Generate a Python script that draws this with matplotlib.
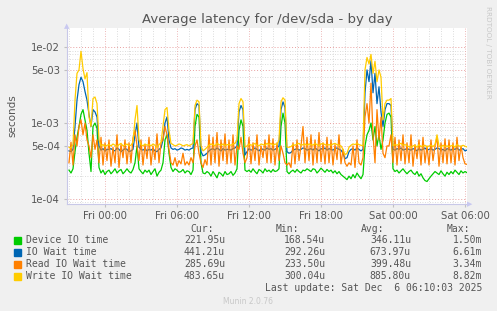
import numpy as np
import pandas as pd
import matplotlib
matplotlib.use('Agg')
import matplotlib.pyplot as plt
import matplotlib.dates as mdates
from matplotlib.ticker import FixedLocator, NullFormatter

# latency samples in microseconds, one every 10 minutes
device_io = [240, 220, 250, 420, 650, 900, 1300, 1500, 1100, 800,
             400, 230, 900, 1000, 850, 260, 220, 240, 210, 230,
             240, 215, 230, 250, 220, 235, 245, 215, 230, 250,
             230, 220, 245, 300, 500, 250, 230, 215, 240, 225,
             240, 210, 230, 250, 200, 225, 240, 300, 600, 700,
             400, 260, 230, 250, 240, 225, 230, 245, 220, 235,
             230, 210, 240, 900, 1300, 1200, 300, 220, 215, 230,
             220, 200, 230, 210, 190, 225, 215, 200, 230, 210,
             215, 230, 205, 220, 250, 800, 1100, 900, 240, 230,
             240, 225, 250, 230, 215, 245, 235, 220, 250, 230,
             240, 225, 245, 230, 235, 250, 900, 1350, 1000, 230,
             215, 230, 240, 225, 245, 230, 220, 240, 235, 250,
             240, 230, 250, 245, 220, 235, 255, 240, 225, 245,
             230, 240, 220, 235, 215, 230, 210, 200, 190, 180,
             200, 185, 210, 190, 220, 200, 185, 210, 500, 700,
             800, 1000, 600, 900, 500, 700, 450, 600, 1000, 1300,
             1350, 1200, 250, 230, 240, 220, 235, 250, 230, 215,
             230, 240, 220, 210, 230, 200, 215, 190, 175, 170,
             185, 200, 215, 230, 220, 210, 235, 215, 200, 225,
             210, 230, 215, 240, 225, 210, 235, 220, 230, 222]

io_wait = [430, 420, 450, 900, 2000, 3200, 4000, 3500, 2600, 2000,
           1300, 900, 1500, 1400, 1200, 500, 440, 460, 430, 450,
           450, 460, 440, 430, 470, 450, 420, 440, 460, 450,
           420, 430, 450, 700, 1000, 480, 450, 440, 460, 430,
           450, 440, 460, 430, 420, 450, 470, 600, 1000, 1200,
           600, 470, 450, 460, 440, 450, 470, 460, 440, 450,
           440, 460, 470, 1500, 1800, 1700, 420, 370, 380, 400,
           430, 450, 460, 440, 470, 450, 430, 460, 440, 450,
           450, 440, 460, 470, 500, 1400, 1700, 1500, 380, 420,
           460, 440, 450, 470, 450, 430, 460, 450, 440, 470,
           450, 460, 440, 450, 470, 500, 1500, 1900, 1600, 420,
           400, 410, 440, 450, 460, 440, 450, 470, 460, 440,
           450, 460, 440, 470, 450, 430, 460, 450, 470, 440,
           460, 450, 440, 460, 470, 450, 440, 400, 340, 350,
           420, 450, 460, 440, 470, 450, 430, 450, 2500, 5000,
           3500, 6600, 2500, 4500, 1800, 3000, 1400, 900, 1500, 1800,
           1800, 1700, 450, 440, 460, 450, 470, 440, 450, 460,
           450, 440, 460, 450, 430, 460, 440, 450, 470, 440,
           450, 460, 440, 450, 470, 460, 440, 450, 430, 460,
           450, 440, 460, 450, 470, 440, 450, 460, 430, 441]

read_io = [300, 560, 280, 700, 500, 900, 1100, 700, 1000, 600,
           500, 350, 700, 450, 600, 300, 650, 280, 550, 320,
           600, 270, 480, 300, 700, 260, 520, 350, 600, 290,
           550, 300, 640, 800, 500, 320, 600, 280, 520, 340,
           650, 280, 500, 330, 720, 300, 550, 600, 900, 700,
           450, 300, 280, 350, 270, 320, 290, 400, 280, 310,
           280, 350, 300, 500, 600, 400, 300, 260, 330, 280,
           700, 280, 650, 300, 750, 270, 600, 320, 720, 290,
           600, 300, 700, 280, 500, 450, 650, 400, 300, 350,
           650, 290, 550, 320, 700, 280, 500, 350, 600, 300,
           700, 300, 620, 280, 550, 320, 500, 400, 300, 280,
           300, 260, 550, 290, 600, 320, 500, 900, 300, 650,
           320, 700, 280, 600, 300, 750, 310, 550, 290, 650,
           300, 600, 280, 520, 330, 700, 290, 450, 300, 270,
           300, 280, 500, 260, 600, 300, 280, 350, 1200, 1800,
           1000, 3340, 700, 300, 1500, 600, 1200, 400, 350, 500,
           500, 700, 300, 650, 280, 600, 320, 700, 290, 550,
           300, 700, 270, 520, 340, 600, 280, 650, 300, 500,
           280, 600, 320, 500, 650, 270, 550, 300, 620, 290,
           600, 300, 550, 280, 650, 320, 500, 350, 290, 286]

write_io = [480, 470, 520, 2000, 4500, 5000, 8800, 5200, 3800, 4600,
            1200, 900, 2100, 2200, 1800, 600, 500, 520, 490, 510,
            520, 500, 530, 510, 490, 520, 540, 500, 510, 530,
            500, 510, 560, 1100, 1700, 600, 520, 500, 530, 510,
            520, 500, 530, 510, 480, 520, 550, 900, 1500, 1600,
            800, 540, 520, 500, 510, 530, 520, 500, 510, 520,
            500, 520, 540, 1700, 2000, 1900, 500, 430, 450, 480,
            510, 530, 520, 500, 540, 520, 510, 530, 500, 520,
            520, 510, 530, 540, 600, 1800, 2100, 1900, 480, 500,
            530, 510, 520, 540, 510, 500, 530, 520, 510, 540,
            520, 540, 510, 530, 520, 600, 1900, 2150, 2000, 480,
            480, 490, 520, 510, 530, 540, 510, 520, 530, 510,
            530, 520, 510, 540, 520, 500, 530, 540, 520, 510,
            520, 510, 530, 540, 520, 510, 500, 450, 380, 400,
            480, 510, 530, 520, 540, 520, 510, 500, 5000, 7300,
            6000, 8000, 4500, 6500, 3500, 5000, 4000, 1100, 1800, 2000,
            2000, 2100, 500, 520, 510, 530, 540, 510, 520, 500,
            490, 480, 500, 510, 480, 520, 490, 500, 510, 480,
            500, 510, 490, 520, 700, 500, 480, 510, 490, 500,
            490, 500, 510, 480, 520, 500, 490, 510, 495, 484]

labels = ['Device IO time', 'IO Wait time', 'Read IO Wait time', 'Write IO Wait time']
colors = ['#00cc00', '#0066b3', '#ff8000', '#ffcc00']
cur_vals = ['221.95u', '441.21u', '285.69u', '483.65u']
min_vals = ['168.54u', '292.26u', '233.50u', '300.04u']
avg_vals = ['346.11u', '673.97u', '399.48u', '885.80u']
max_vals = ['1.50m', '6.61m', '3.34m', '8.82m']
ytick_vals = [1e-4, 5e-4, 1e-3, 5e-3, 1e-2]
ytick_labels = ['1e-04', '5e-04', '1e-03', '5e-03', '1e-02']

times = pd.date_range('2025-12-04 21:00', periods=len(device_io), freq='10min')
t0 = pd.Timestamp('2025-12-04 20:50')
t1 = pd.Timestamp('2025-12-06 06:10')

W, H = 497, 311
bg = '#f0f0f0'
fig = plt.figure(figsize=(W / 100, H / 100), dpi=100, facecolor=bg)
ax = fig.add_axes([67 / W, 1 - 204 / H, 400 / W, 176 / H])
ax.set_facecolor('white')

for series, c in zip([device_io, io_wait, read_io, write_io], colors):
    ax.plot(times, np.array(series) * 1e-6, color=c, lw=0.9, zorder=3)

ax.set_yscale('log')
ax.set_ylim(8.6e-5, 1.78e-2)
ax.set_xlim(t0, t1)

# grid, rrdtool style
minor_y = [m * 10.0 ** e for e in (-5, -4, -3, -2) for m in range(2, 10) if m != 5]
for v in minor_y:
    ax.axhline(v, color='#d0d0d0', lw=0.6, ls=(0, (1, 2)), zorder=1)
for v in ytick_vals:
    ax.axhline(v, color='#e8a0a0', lw=0.7, ls=(0, (1, 2)), zorder=1.5)
hours = pd.date_range('2025-12-04 21:00', '2025-12-06 06:00', freq='1h')
for h in hours:
    col = '#e8a0a0' if h.hour % 6 == 0 else '#d0d0d0'
    ax.axvline(h, color=col, lw=0.6, ls=(0, (1, 2)), zorder=1)

ax.yaxis.set_major_locator(FixedLocator(ytick_vals))
ax.set_yticklabels(ytick_labels)
ax.yaxis.set_minor_formatter(NullFormatter())
ax.tick_params(axis='y', which='minor', length=0)
ax.xaxis.set_major_locator(mdates.HourLocator(byhour=[0, 6, 12, 18]))
ax.xaxis.set_major_formatter(mdates.DateFormatter('%a %H:%M'))
ax.tick_params(axis='both', which='major', length=2, color='#c0c0c0',
               labelsize=7.3, labelcolor='#555555', pad=3)

for s in ['top', 'right']:
    ax.spines[s].set_visible(False)
for s in ['left', 'bottom']:
    ax.spines[s].set_color('#c8c8e8')
    ax.spines[s].set_linewidth(0.8)

# axis arrows
fig.text(67 / W, 1 - 26 / H, '\u25b2', color='#c8c8f0', fontsize=5, ha='center', va='center')
fig.text(470 / W, 1 - 204 / H, '\u25b6', color='#c8c8f0', fontsize=5, ha='center', va='center')

fig.text(267 / W, 1 - 19 / H, 'Average latency for /dev/sda - by day',
         ha='center', va='center', fontsize=9.5, color='#555555')
fig.text(12 / W, 1 - 116 / H, 'seconds', rotation=90, ha='center', va='center',
         fontsize=7.5, color='#555555')
fig.text(488 / W, 1 - 6 / H, 'RRDTOOL / TOBI OETIKER', rotation=270, ha='center',
         va='top', fontsize=5.2, color='#c8c8c8')

# legend block
mono = dict(family='DejaVu Sans Mono', fontsize=7, color='#555555', va='center')
fig.text(190 / W, 1 - 229 / H, 'Cur:', ha='left', **mono)
fig.text(276 / W, 1 - 229 / H, 'Min:', ha='left', **mono)
fig.text(361 / W, 1 - 229 / H, 'Avg:', ha='left', **mono)
fig.text(447 / W, 1 - 229 / H, 'Max:', ha='left', **mono)
for k in range(4):
    y = 1 - (240 + 12 * k) / H
    fig.patches.append(plt.Rectangle((14 / W, y - 3.5 / H), 7 / W, 7 / H,
                                     transform=fig.transFigure, color=colors[k]))
    fig.text(26 / W, y, labels[k], ha='left', **mono)
    fig.text(225 / W, y, cur_vals[k], ha='right', **mono)
    fig.text(325 / W, y, min_vals[k], ha='right', **mono)
    fig.text(411 / W, y, avg_vals[k], ha='right', **mono)
    fig.text(482 / W, y, max_vals[k], ha='right', **mono)
fig.text(482 / W, 1 - 288 / H, 'Last update: Sat Dec  6 06:10:03 2025', ha='right', **mono)
fig.text(248 / W, 1 - 301 / H, 'Munin 2.0.76', ha='center', va='center',
         fontsize=5.5, color='#c8c8c8')

fig.savefig('out.png', dpi=100, facecolor=bg)
